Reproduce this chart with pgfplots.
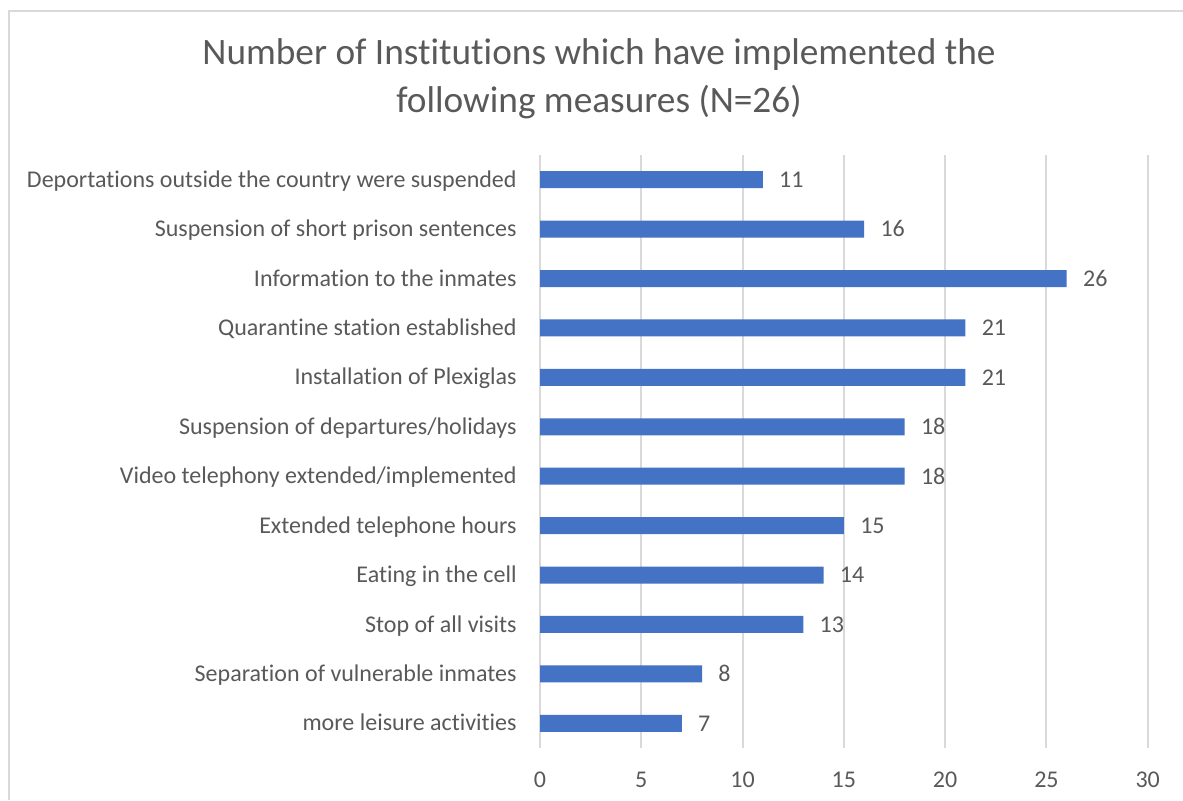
\documentclass[border=0pt]{standalone}
\usepackage{pgfplots}
\pgfplotsset{compat=1.18}
\usepackage{fontspec}
\setmainfont{Carlito}[Ligatures=NoCommon]
\definecolor{barblue}{HTML}{4472C4}
\definecolor{txt}{HTML}{595959}
\definecolor{gridc}{HTML}{D9D9D9}
\begin{document}
\begin{tikzpicture}
\useasboundingbox (0,0) rectangle (591.5pt,-400pt);
\draw[gridc, line width=0.7pt] (4.5pt,-400pt) -- (4.5pt,-5.5pt) -- (591.5pt,-5.5pt);
\node[txt, font=\fontsize{18.65}{24}\selectfont, align=center] at (299.5pt,-39.5pt) {Number of Institutions which have implemented the\\following measures (N=26)};
\begin{axis}[
  at={(270pt,-374pt)}, anchor=south west,
  scale only axis, width=303.85pt, height=296.5pt,
  xbar, bar width=8.5pt,
  xmin=0, xmax=30, ymin=-0.5, ymax=11.5, y dir=reverse,
  xtick={0,5,...,30}, ytick={0,...,11},
  yticklabels={Deportations outside the country were suspended,
    Suspension of short prison sentences,
    Information to the inmates,
    Quarantine station established,
    Installation of Plexiglas,
    Suspension of departures/holidays,
    Video telephony extended/implemented,
    Extended telephone hours,
    Eating in the cell,
    Stop of all visits,
    Separation of vulnerable inmates,
    more leisure activities},
  xmajorgrids, major grid style={gridc, line width=1pt},
  axis line style={draw=none}, major tick length=0pt,
  tick label style={txt, font=\fontsize{12}{14}\selectfont},
  /pgf/number format/assume math mode=true,
  yticklabel style={anchor=base east, inner sep=0pt, xshift=-11.5pt, yshift=-3.8pt},
  xticklabel style={anchor=center, inner sep=0pt, yshift=-16pt},
  nodes near coords,
  every node near coord/.append style={txt, font=\fontsize{12}{14}\selectfont, anchor=base west, inner sep=0pt, xshift=8pt, yshift=-3.9pt},
]
\addplot[fill=barblue, draw=none] coordinates {(11,0) (16,1) (26,2) (21,3) (21,4) (18,5) (18,6) (15,7) (14,8) (13,9) (8,10) (7,11)};
\end{axis}
\end{tikzpicture}
\end{document}
